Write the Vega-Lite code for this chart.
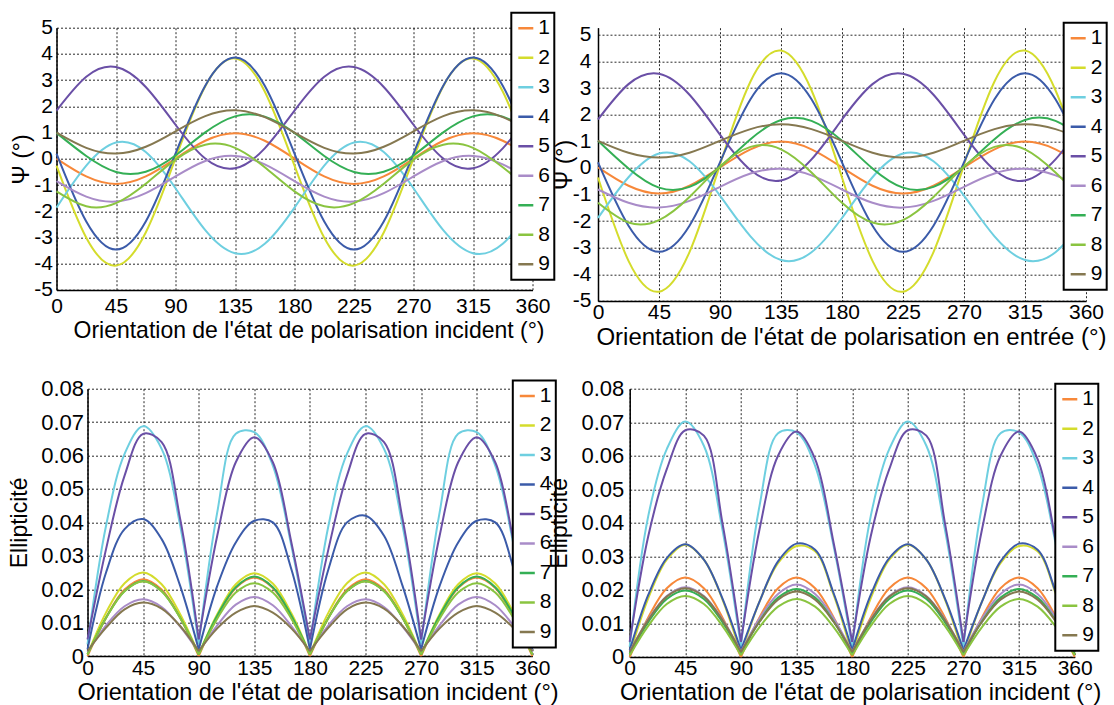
{
"$schema": "https://vega.github.io/schema/vega-lite/v6.json",
"padding": {"left": 8.5, "top": 11.7, "right": 5, "bottom": 0},
"background": "white",
"config": {
 "font": "Liberation Sans",
 "view": {"stroke": null},
 "axis": {"labelFont": "Liberation Sans", "titleFont": "Liberation Sans", "labelFontSize": 21, "titleFontSize": 23, "titleFontWeight": "normal", "labelColor": "#000", "titleColor": "#000", "domainColor": "#000", "domainWidth": 1.5, "ticks": false, "gridColor": "#000", "gridDash": [2, 2], "gridWidth": 1, "gridOpacity": 0.85, "labelFlush": false, "labelOverlap": false, "labelBound": false},
 "legend": {"symbolType": "stroke", "symbolSize": 225, "symbolStrokeWidth": 2.5, "labelFont": "Liberation Sans", "labelFontSize": 21, "labelColor": "#000", "fillColor": "#fff", "strokeColor": "#000", "strokeWidth": 2, "padding": 4, "rowPadding": 6.5, "clipHeight": 23, "labelOffset": 2, "cornerRadius": 0}
},
"datasets": {
"tl": [
{"s":"1","x":0,"y":0.01},{"s":"1","x":22.5,"y":-0.67},{"s":"1","x":45,"y":-0.955},{"s":"1","x":67.5,"y":-0.67},{"s":"1","x":90,"y":0.01},{"s":"1","x":112.5,"y":0.69},{"s":"1","x":135,"y":0.975},{"s":"1","x":157.5,"y":0.69},{"s":"1","x":180,"y":0.01},{"s":"1","x":202.5,"y":-0.67},{"s":"1","x":225,"y":-0.955},{"s":"1","x":247.5,"y":-0.67},{"s":"1","x":270,"y":0.01},{"s":"1","x":292.5,"y":0.69},{"s":"1","x":315,"y":0.975},{"s":"1","x":337.5,"y":0.69},{"s":"1","x":360,"y":0.01},
{"s":"2","x":0,"y":-0.26},{"s":"2","x":22.5,"y":-3.01},{"s":"2","x":45,"y":-4.07},{"s":"2","x":67.5,"y":-2.81},{"s":"2","x":90,"y":0.02},{"s":"2","x":112.5,"y":2.77},{"s":"2","x":135,"y":3.83},{"s":"2","x":157.5,"y":2.57},{"s":"2","x":180,"y":-0.26},{"s":"2","x":202.5,"y":-3.01},{"s":"2","x":225,"y":-4.07},{"s":"2","x":247.5,"y":-2.81},{"s":"2","x":270,"y":0.02},{"s":"2","x":292.5,"y":2.77},{"s":"2","x":315,"y":3.83},{"s":"2","x":337.5,"y":2.57},{"s":"2","x":360,"y":-0.26},
{"s":"3","x":0,"y":-1.86},{"s":"3","x":22.5,"y":-0.26},{"s":"3","x":45,"y":0.62},{"s":"3","x":67.5,"y":0.26},{"s":"3","x":90,"y":-1.12},{"s":"3","x":112.5,"y":-2.72},{"s":"3","x":135,"y":-3.6},{"s":"3","x":157.5,"y":-3.24},{"s":"3","x":180,"y":-1.86},{"s":"3","x":202.5,"y":-0.26},{"s":"3","x":225,"y":0.62},{"s":"3","x":247.5,"y":0.26},{"s":"3","x":270,"y":-1.12},{"s":"3","x":292.5,"y":-2.72},{"s":"3","x":315,"y":-3.6},{"s":"3","x":337.5,"y":-3.24},{"s":"3","x":360,"y":-1.86},
{"s":"4","x":0,"y":0.2},{"s":"4","x":22.5,"y":-2.39},{"s":"4","x":45,"y":-3.46},{"s":"4","x":67.5,"y":-2.39},{"s":"4","x":90,"y":0.2},{"s":"4","x":112.5,"y":2.79},{"s":"4","x":135,"y":3.86},{"s":"4","x":157.5,"y":2.79},{"s":"4","x":180,"y":0.2},{"s":"4","x":202.5,"y":-2.39},{"s":"4","x":225,"y":-3.46},{"s":"4","x":247.5,"y":-2.39},{"s":"4","x":270,"y":0.2},{"s":"4","x":292.5,"y":2.79},{"s":"4","x":315,"y":3.86},{"s":"4","x":337.5,"y":2.79},{"s":"4","x":360,"y":0.2},
{"s":"5","x":0,"y":1.84},{"s":"5","x":22.5,"y":3.13},{"s":"5","x":45,"y":3.5},{"s":"5","x":67.5,"y":2.74},{"s":"5","x":90,"y":1.3},{"s":"5","x":112.5,"y":0.01},{"s":"5","x":135,"y":-0.36},{"s":"5","x":157.5,"y":0.4},{"s":"5","x":180,"y":1.84},{"s":"5","x":202.5,"y":3.13},{"s":"5","x":225,"y":3.5},{"s":"5","x":247.5,"y":2.74},{"s":"5","x":270,"y":1.3},{"s":"5","x":292.5,"y":0.01},{"s":"5","x":315,"y":-0.36},{"s":"5","x":337.5,"y":0.4},{"s":"5","x":360,"y":1.84},
{"s":"6","x":0,"y":-0.85},{"s":"6","x":22.5,"y":-1.44},{"s":"6","x":45,"y":-1.63},{"s":"6","x":67.5,"y":-1.31},{"s":"6","x":90,"y":-0.67},{"s":"6","x":112.5,"y":-0.08},{"s":"6","x":135,"y":0.11},{"s":"6","x":157.5,"y":-0.21},{"s":"6","x":180,"y":-0.85},{"s":"6","x":202.5,"y":-1.44},{"s":"6","x":225,"y":-1.63},{"s":"6","x":247.5,"y":-1.31},{"s":"6","x":270,"y":-0.67},{"s":"6","x":292.5,"y":-0.08},{"s":"6","x":315,"y":0.11},{"s":"6","x":337.5,"y":-0.21},{"s":"6","x":360,"y":-0.85},
{"s":"7","x":0,"y":0.99},{"s":"7","x":22.5,"y":0.11},{"s":"7","x":45,"y":-0.5},{"s":"7","x":67.5,"y":-0.49},{"s":"7","x":90,"y":0.13},{"s":"7","x":112.5,"y":1.01},{"s":"7","x":135,"y":1.62},{"s":"7","x":157.5,"y":1.61},{"s":"7","x":180,"y":0.99},{"s":"7","x":202.5,"y":0.11},{"s":"7","x":225,"y":-0.5},{"s":"7","x":247.5,"y":-0.49},{"s":"7","x":270,"y":0.13},{"s":"7","x":292.5,"y":1.01},{"s":"7","x":315,"y":1.62},{"s":"7","x":337.5,"y":1.61},{"s":"7","x":360,"y":0.99},
{"s":"8","x":0,"y":-1.24},{"s":"8","x":22.5,"y":-1.81},{"s":"8","x":45,"y":-1.69},{"s":"8","x":67.5,"y":-0.95},{"s":"8","x":90,"y":-0.03},{"s":"8","x":112.5,"y":0.54},{"s":"8","x":135,"y":0.42},{"s":"8","x":157.5,"y":-0.32},{"s":"8","x":180,"y":-1.24},{"s":"8","x":202.5,"y":-1.81},{"s":"8","x":225,"y":-1.69},{"s":"8","x":247.5,"y":-0.95},{"s":"8","x":270,"y":-0.03},{"s":"8","x":292.5,"y":0.54},{"s":"8","x":315,"y":0.42},{"s":"8","x":337.5,"y":-0.32},{"s":"8","x":360,"y":-1.24},
{"s":"9","x":0,"y":1.0},{"s":"9","x":22.5,"y":0.42},{"s":"9","x":45,"y":0.2},{"s":"9","x":67.5,"y":0.46},{"s":"9","x":90,"y":1.05},{"s":"9","x":112.5,"y":1.63},{"s":"9","x":135,"y":1.85},{"s":"9","x":157.5,"y":1.59},{"s":"9","x":180,"y":1.0},{"s":"9","x":202.5,"y":0.42},{"s":"9","x":225,"y":0.2},{"s":"9","x":247.5,"y":0.46},{"s":"9","x":270,"y":1.05},{"s":"9","x":292.5,"y":1.63},{"s":"9","x":315,"y":1.85},{"s":"9","x":337.5,"y":1.59},{"s":"9","x":360,"y":1.0}
],
"tr": [
{"s":"1","x":0,"y":0.02},{"s":"1","x":22.5,"y":-0.67},{"s":"1","x":45,"y":-0.96},{"s":"1","x":67.5,"y":-0.67},{"s":"1","x":90,"y":0.02},{"s":"1","x":112.5,"y":0.7},{"s":"1","x":135,"y":0.99},{"s":"1","x":157.5,"y":0.7},{"s":"1","x":180,"y":0.02},{"s":"1","x":202.5,"y":-0.67},{"s":"1","x":225,"y":-0.96},{"s":"1","x":247.5,"y":-0.67},{"s":"1","x":270,"y":0.02},{"s":"1","x":292.5,"y":0.7},{"s":"1","x":315,"y":0.99},{"s":"1","x":337.5,"y":0.7},{"s":"1","x":360,"y":0.02},
{"s":"2","x":0,"y":-0.36},{"s":"2","x":22.5,"y":-3.49},{"s":"2","x":45,"y":-4.65},{"s":"2","x":67.5,"y":-3.16},{"s":"2","x":90,"y":0.12},{"s":"2","x":112.5,"y":3.25},{"s":"2","x":135,"y":4.41},{"s":"2","x":157.5,"y":2.92},{"s":"2","x":180,"y":-0.36},{"s":"2","x":202.5,"y":-3.49},{"s":"2","x":225,"y":-4.65},{"s":"2","x":247.5,"y":-3.16},{"s":"2","x":270,"y":0.12},{"s":"2","x":292.5,"y":3.25},{"s":"2","x":315,"y":4.41},{"s":"2","x":337.5,"y":2.92},{"s":"2","x":360,"y":-0.36},
{"s":"3","x":0,"y":-1.88},{"s":"3","x":22.5,"y":-0.35},{"s":"3","x":45,"y":0.54},{"s":"3","x":67.5,"y":0.25},{"s":"3","x":90,"y":-1.04},{"s":"3","x":112.5,"y":-2.57},{"s":"3","x":135,"y":-3.46},{"s":"3","x":157.5,"y":-3.17},{"s":"3","x":180,"y":-1.88},{"s":"3","x":202.5,"y":-0.35},{"s":"3","x":225,"y":0.54},{"s":"3","x":247.5,"y":0.25},{"s":"3","x":270,"y":-1.04},{"s":"3","x":292.5,"y":-2.57},{"s":"3","x":315,"y":-3.46},{"s":"3","x":337.5,"y":-3.17},{"s":"3","x":360,"y":-1.88},
{"s":"4","x":0,"y":0.21},{"s":"4","x":22.5,"y":-2.17},{"s":"4","x":45,"y":-3.15},{"s":"4","x":67.5,"y":-2.17},{"s":"4","x":90,"y":0.21},{"s":"4","x":112.5,"y":2.58},{"s":"4","x":135,"y":3.56},{"s":"4","x":157.5,"y":2.58},{"s":"4","x":180,"y":0.21},{"s":"4","x":202.5,"y":-2.17},{"s":"4","x":225,"y":-3.15},{"s":"4","x":247.5,"y":-2.17},{"s":"4","x":270,"y":0.21},{"s":"4","x":292.5,"y":2.58},{"s":"4","x":315,"y":3.56},{"s":"4","x":337.5,"y":2.58},{"s":"4","x":360,"y":0.21},
{"s":"5","x":0,"y":1.82},{"s":"5","x":22.5,"y":3.15},{"s":"5","x":45,"y":3.54},{"s":"5","x":67.5,"y":2.75},{"s":"5","x":90,"y":1.25},{"s":"5","x":112.5,"y":-0.08},{"s":"5","x":135,"y":-0.47},{"s":"5","x":157.5,"y":0.32},{"s":"5","x":180,"y":1.82},{"s":"5","x":202.5,"y":3.15},{"s":"5","x":225,"y":3.54},{"s":"5","x":247.5,"y":2.75},{"s":"5","x":270,"y":1.25},{"s":"5","x":292.5,"y":-0.08},{"s":"5","x":315,"y":-0.47},{"s":"5","x":337.5,"y":0.32},{"s":"5","x":360,"y":1.82},
{"s":"6","x":0,"y":-0.81},{"s":"6","x":22.5,"y":-1.31},{"s":"6","x":45,"y":-1.49},{"s":"6","x":67.5,"y":-1.24},{"s":"6","x":90,"y":-0.71},{"s":"6","x":112.5,"y":-0.21},{"s":"6","x":135,"y":-0.03},{"s":"6","x":157.5,"y":-0.28},{"s":"6","x":180,"y":-0.81},{"s":"6","x":202.5,"y":-1.31},{"s":"6","x":225,"y":-1.49},{"s":"6","x":247.5,"y":-1.24},{"s":"6","x":270,"y":-0.71},{"s":"6","x":292.5,"y":-0.21},{"s":"6","x":315,"y":-0.03},{"s":"6","x":337.5,"y":-0.28},{"s":"6","x":360,"y":-0.81},
{"s":"7","x":0,"y":1.02},{"s":"7","x":22.5,"y":-0.02},{"s":"7","x":45,"y":-0.74},{"s":"7","x":67.5,"y":-0.71},{"s":"7","x":90,"y":0.04},{"s":"7","x":112.5,"y":1.08},{"s":"7","x":135,"y":1.8},{"s":"7","x":157.5,"y":1.77},{"s":"7","x":180,"y":1.02},{"s":"7","x":202.5,"y":-0.02},{"s":"7","x":225,"y":-0.74},{"s":"7","x":247.5,"y":-0.71},{"s":"7","x":270,"y":0.04},{"s":"7","x":292.5,"y":1.08},{"s":"7","x":315,"y":1.8},{"s":"7","x":337.5,"y":1.77},{"s":"7","x":360,"y":1.02},
{"s":"8","x":0,"y":-1.31},{"s":"8","x":22.5,"y":-2.05},{"s":"8","x":45,"y":-1.96},{"s":"8","x":67.5,"y":-1.09},{"s":"8","x":90,"y":0.05},{"s":"8","x":112.5,"y":0.79},{"s":"8","x":135,"y":0.7},{"s":"8","x":157.5,"y":-0.17},{"s":"8","x":180,"y":-1.31},{"s":"8","x":202.5,"y":-2.05},{"s":"8","x":225,"y":-1.96},{"s":"8","x":247.5,"y":-1.09},{"s":"8","x":270,"y":0.05},{"s":"8","x":292.5,"y":0.79},{"s":"8","x":315,"y":0.7},{"s":"8","x":337.5,"y":-0.17},{"s":"8","x":360,"y":-1.31},
{"s":"9","x":0,"y":1.02},{"s":"9","x":22.5,"y":0.57},{"s":"9","x":45,"y":0.39},{"s":"9","x":67.5,"y":0.57},{"s":"9","x":90,"y":1.02},{"s":"9","x":112.5,"y":1.46},{"s":"9","x":135,"y":1.64},{"s":"9","x":157.5,"y":1.46},{"s":"9","x":180,"y":1.02},{"s":"9","x":202.5,"y":0.57},{"s":"9","x":225,"y":0.39},{"s":"9","x":247.5,"y":0.57},{"s":"9","x":270,"y":1.02},{"s":"9","x":292.5,"y":1.46},{"s":"9","x":315,"y":1.64},{"s":"9","x":337.5,"y":1.46},{"s":"9","x":360,"y":1.02}
],
"bl": [
{"s":"1","h":1,"x":0,"y":0},{"s":"1","h":1,"x":15,"y":0.0115},{"s":"1","h":1,"x":30,"y":0.0199},{"s":"1","h":1,"x":45,"y":0.023},{"s":"1","h":1,"x":60,"y":0.0199},{"s":"1","h":1,"x":75,"y":0.0115},{"s":"1","h":1,"x":90,"y":0},
{"s":"1","h":2,"x":90,"y":0},{"s":"1","h":2,"x":105,"y":0.0118},{"s":"1","h":2,"x":120,"y":0.0204},{"s":"1","h":2,"x":135,"y":0.0235},{"s":"1","h":2,"x":150,"y":0.0204},{"s":"1","h":2,"x":165,"y":0.0118},{"s":"1","h":2,"x":180,"y":0},
{"s":"1","h":3,"x":180,"y":0},{"s":"1","h":3,"x":195,"y":0.0115},{"s":"1","h":3,"x":210,"y":0.0199},{"s":"1","h":3,"x":225,"y":0.023},{"s":"1","h":3,"x":240,"y":0.0199},{"s":"1","h":3,"x":255,"y":0.0115},{"s":"1","h":3,"x":270,"y":0},
{"s":"1","h":4,"x":270,"y":0},{"s":"1","h":4,"x":285,"y":0.0118},{"s":"1","h":4,"x":300,"y":0.0204},{"s":"1","h":4,"x":315,"y":0.0235},{"s":"1","h":4,"x":330,"y":0.0204},{"s":"1","h":4,"x":345,"y":0.0118},{"s":"1","h":4,"x":360,"y":0},
{"s":"2","h":1,"x":0,"y":0.0005},{"s":"2","h":1,"x":15,"y":0.013},{"s":"2","h":1,"x":30,"y":0.0218},{"s":"2","h":1,"x":45,"y":0.025},{"s":"2","h":1,"x":60,"y":0.0215},{"s":"2","h":1,"x":75,"y":0.0125},{"s":"2","h":1,"x":90,"y":0.0005},
{"s":"2","h":2,"x":90,"y":0.0005},{"s":"2","h":2,"x":105,"y":0.0125},{"s":"2","h":2,"x":120,"y":0.0215},{"s":"2","h":2,"x":135,"y":0.0248},{"s":"2","h":2,"x":150,"y":0.0217},{"s":"2","h":2,"x":165,"y":0.0128},{"s":"2","h":2,"x":180,"y":0.0005},
{"s":"2","h":3,"x":180,"y":0.0005},{"s":"2","h":3,"x":195,"y":0.013},{"s":"2","h":3,"x":210,"y":0.0218},{"s":"2","h":3,"x":225,"y":0.025},{"s":"2","h":3,"x":240,"y":0.0215},{"s":"2","h":3,"x":255,"y":0.0125},{"s":"2","h":3,"x":270,"y":0.0005},
{"s":"2","h":4,"x":270,"y":0.0005},{"s":"2","h":4,"x":285,"y":0.0125},{"s":"2","h":4,"x":300,"y":0.0215},{"s":"2","h":4,"x":315,"y":0.0248},{"s":"2","h":4,"x":330,"y":0.0217},{"s":"2","h":4,"x":345,"y":0.0128},{"s":"2","h":4,"x":360,"y":0.0005},
{"s":"3","h":1,"x":0,"y":0.0035},{"s":"3","h":1,"x":15,"y":0.039},{"s":"3","h":1,"x":30,"y":0.0605},{"s":"3","h":1,"x":45,"y":0.0688},{"s":"3","h":1,"x":60,"y":0.062},{"s":"3","h":1,"x":75,"y":0.039},{"s":"3","h":1,"x":90,"y":0.0035},
{"s":"3","h":2,"x":90,"y":0.0035},{"s":"3","h":2,"x":105,"y":0.043},{"s":"3","h":2,"x":120,"y":0.0665},{"s":"3","h":2,"x":135,"y":0.067},{"s":"3","h":2,"x":150,"y":0.057},{"s":"3","h":2,"x":165,"y":0.033},{"s":"3","h":2,"x":180,"y":0.0035},
{"s":"3","h":3,"x":180,"y":0.0035},{"s":"3","h":3,"x":195,"y":0.039},{"s":"3","h":3,"x":210,"y":0.0605},{"s":"3","h":3,"x":225,"y":0.0688},{"s":"3","h":3,"x":240,"y":0.062},{"s":"3","h":3,"x":255,"y":0.039},{"s":"3","h":3,"x":270,"y":0.0035},
{"s":"3","h":4,"x":270,"y":0.0035},{"s":"3","h":4,"x":285,"y":0.043},{"s":"3","h":4,"x":300,"y":0.0665},{"s":"3","h":4,"x":315,"y":0.067},{"s":"3","h":4,"x":330,"y":0.057},{"s":"3","h":4,"x":345,"y":0.033},{"s":"3","h":4,"x":360,"y":0.0035},
{"s":"4","h":1,"x":0,"y":0.002},{"s":"4","h":1,"x":15,"y":0.025},{"s":"4","h":1,"x":30,"y":0.038},{"s":"4","h":1,"x":45,"y":0.041},{"s":"4","h":1,"x":60,"y":0.035},{"s":"4","h":1,"x":75,"y":0.021},{"s":"4","h":1,"x":90,"y":0.002},
{"s":"4","h":2,"x":90,"y":0.002},{"s":"4","h":2,"x":105,"y":0.021},{"s":"4","h":2,"x":120,"y":0.034},{"s":"4","h":2,"x":135,"y":0.0405},{"s":"4","h":2,"x":150,"y":0.04},{"s":"4","h":2,"x":165,"y":0.026},{"s":"4","h":2,"x":180,"y":0.002},
{"s":"4","h":3,"x":180,"y":0.002},{"s":"4","h":3,"x":195,"y":0.026},{"s":"4","h":3,"x":210,"y":0.04},{"s":"4","h":3,"x":225,"y":0.042},{"s":"4","h":3,"x":240,"y":0.036},{"s":"4","h":3,"x":255,"y":0.021},{"s":"4","h":3,"x":270,"y":0.002},
{"s":"4","h":4,"x":270,"y":0.002},{"s":"4","h":4,"x":285,"y":0.021},{"s":"4","h":4,"x":300,"y":0.034},{"s":"4","h":4,"x":315,"y":0.0405},{"s":"4","h":4,"x":330,"y":0.04},{"s":"4","h":4,"x":345,"y":0.026},{"s":"4","h":4,"x":360,"y":0.002},
{"s":"5","h":1,"x":0,"y":0.005},{"s":"5","h":1,"x":15,"y":0.032},{"s":"5","h":1,"x":30,"y":0.054},{"s":"5","h":1,"x":45,"y":0.0665},{"s":"5","h":1,"x":60,"y":0.064},{"s":"5","h":1,"x":75,"y":0.041},{"s":"5","h":1,"x":90,"y":0.005},
{"s":"5","h":2,"x":90,"y":0.005},{"s":"5","h":2,"x":105,"y":0.036},{"s":"5","h":2,"x":120,"y":0.058},{"s":"5","h":2,"x":135,"y":0.0655},{"s":"5","h":2,"x":150,"y":0.058},{"s":"5","h":2,"x":165,"y":0.034},{"s":"5","h":2,"x":180,"y":0.005},
{"s":"5","h":3,"x":180,"y":0.005},{"s":"5","h":3,"x":195,"y":0.032},{"s":"5","h":3,"x":210,"y":0.054},{"s":"5","h":3,"x":225,"y":0.0665},{"s":"5","h":3,"x":240,"y":0.064},{"s":"5","h":3,"x":255,"y":0.041},{"s":"5","h":3,"x":270,"y":0.005},
{"s":"5","h":4,"x":270,"y":0.005},{"s":"5","h":4,"x":285,"y":0.036},{"s":"5","h":4,"x":300,"y":0.058},{"s":"5","h":4,"x":315,"y":0.0655},{"s":"5","h":4,"x":330,"y":0.058},{"s":"5","h":4,"x":345,"y":0.034},{"s":"5","h":4,"x":360,"y":0.005},
{"s":"6","h":1,"x":0,"y":0.0012},{"s":"6","h":1,"x":15,"y":0.0092},{"s":"6","h":1,"x":30,"y":0.0149},{"s":"6","h":1,"x":45,"y":0.017},{"s":"6","h":1,"x":60,"y":0.0147},{"s":"6","h":1,"x":75,"y":0.0088},{"s":"6","h":1,"x":90,"y":0.0012},
{"s":"6","h":2,"x":90,"y":0.0012},{"s":"6","h":2,"x":105,"y":0.0092},{"s":"6","h":2,"x":120,"y":0.0154},{"s":"6","h":2,"x":135,"y":0.0177},{"s":"6","h":2,"x":150,"y":0.0152},{"s":"6","h":2,"x":165,"y":0.009},{"s":"6","h":2,"x":180,"y":0.0012},
{"s":"6","h":3,"x":180,"y":0.0012},{"s":"6","h":3,"x":195,"y":0.0092},{"s":"6","h":3,"x":210,"y":0.0149},{"s":"6","h":3,"x":225,"y":0.017},{"s":"6","h":3,"x":240,"y":0.0147},{"s":"6","h":3,"x":255,"y":0.0088},{"s":"6","h":3,"x":270,"y":0.0012},
{"s":"6","h":4,"x":270,"y":0.0012},{"s":"6","h":4,"x":285,"y":0.0092},{"s":"6","h":4,"x":300,"y":0.0154},{"s":"6","h":4,"x":315,"y":0.0177},{"s":"6","h":4,"x":330,"y":0.0152},{"s":"6","h":4,"x":345,"y":0.009},{"s":"6","h":4,"x":360,"y":0.0012},
{"s":"7","h":1,"x":0,"y":0.0005},{"s":"7","h":1,"x":15,"y":0.0115},{"s":"7","h":1,"x":30,"y":0.0195},{"s":"7","h":1,"x":45,"y":0.0225},{"s":"7","h":1,"x":60,"y":0.0195},{"s":"7","h":1,"x":75,"y":0.0115},{"s":"7","h":1,"x":90,"y":0.0005},
{"s":"7","h":2,"x":90,"y":0.0005},{"s":"7","h":2,"x":105,"y":0.0121},{"s":"7","h":2,"x":120,"y":0.0206},{"s":"7","h":2,"x":135,"y":0.0238},{"s":"7","h":2,"x":150,"y":0.0206},{"s":"7","h":2,"x":165,"y":0.0121},{"s":"7","h":2,"x":180,"y":0.0005},
{"s":"7","h":3,"x":180,"y":0.0005},{"s":"7","h":3,"x":195,"y":0.0115},{"s":"7","h":3,"x":210,"y":0.0195},{"s":"7","h":3,"x":225,"y":0.0225},{"s":"7","h":3,"x":240,"y":0.0195},{"s":"7","h":3,"x":255,"y":0.0115},{"s":"7","h":3,"x":270,"y":0.0005},
{"s":"7","h":4,"x":270,"y":0.0005},{"s":"7","h":4,"x":285,"y":0.0121},{"s":"7","h":4,"x":300,"y":0.0206},{"s":"7","h":4,"x":315,"y":0.0238},{"s":"7","h":4,"x":330,"y":0.0206},{"s":"7","h":4,"x":345,"y":0.0121},{"s":"7","h":4,"x":360,"y":0.0005},
{"s":"8","h":1,"x":0,"y":0.0005},{"s":"8","h":1,"x":15,"y":0.0114},{"s":"8","h":1,"x":30,"y":0.0194},{"s":"8","h":1,"x":45,"y":0.0223},{"s":"8","h":1,"x":60,"y":0.0194},{"s":"8","h":1,"x":75,"y":0.0114},{"s":"8","h":1,"x":90,"y":0.0005},
{"s":"8","h":2,"x":90,"y":0.0005},{"s":"8","h":2,"x":105,"y":0.0112},{"s":"8","h":2,"x":120,"y":0.019},{"s":"8","h":2,"x":135,"y":0.0218},{"s":"8","h":2,"x":150,"y":0.019},{"s":"8","h":2,"x":165,"y":0.0112},{"s":"8","h":2,"x":180,"y":0.0005},
{"s":"8","h":3,"x":180,"y":0.0005},{"s":"8","h":3,"x":195,"y":0.0114},{"s":"8","h":3,"x":210,"y":0.0194},{"s":"8","h":3,"x":225,"y":0.0223},{"s":"8","h":3,"x":240,"y":0.0194},{"s":"8","h":3,"x":255,"y":0.0114},{"s":"8","h":3,"x":270,"y":0.0005},
{"s":"8","h":4,"x":270,"y":0.0005},{"s":"8","h":4,"x":285,"y":0.0112},{"s":"8","h":4,"x":300,"y":0.019},{"s":"8","h":4,"x":315,"y":0.0218},{"s":"8","h":4,"x":330,"y":0.019},{"s":"8","h":4,"x":345,"y":0.0112},{"s":"8","h":4,"x":360,"y":0.0005},
{"s":"9","h":1,"x":0,"y":0.0015},{"s":"9","h":1,"x":15,"y":0.0085},{"s":"9","h":1,"x":30,"y":0.014},{"s":"9","h":1,"x":45,"y":0.016},{"s":"9","h":1,"x":60,"y":0.0142},{"s":"9","h":1,"x":75,"y":0.009},{"s":"9","h":1,"x":90,"y":0.0015},
{"s":"9","h":2,"x":90,"y":0.0015},{"s":"9","h":2,"x":105,"y":0.0083},{"s":"9","h":2,"x":120,"y":0.013},{"s":"9","h":2,"x":135,"y":0.015},{"s":"9","h":2,"x":150,"y":0.013},{"s":"9","h":2,"x":165,"y":0.0083},{"s":"9","h":2,"x":180,"y":0.0015},
{"s":"9","h":3,"x":180,"y":0.0015},{"s":"9","h":3,"x":195,"y":0.0085},{"s":"9","h":3,"x":210,"y":0.014},{"s":"9","h":3,"x":225,"y":0.016},{"s":"9","h":3,"x":240,"y":0.0142},{"s":"9","h":3,"x":255,"y":0.009},{"s":"9","h":3,"x":270,"y":0.0015},
{"s":"9","h":4,"x":270,"y":0.0015},{"s":"9","h":4,"x":285,"y":0.0083},{"s":"9","h":4,"x":300,"y":0.013},{"s":"9","h":4,"x":315,"y":0.015},{"s":"9","h":4,"x":330,"y":0.013},{"s":"9","h":4,"x":345,"y":0.0083},{"s":"9","h":4,"x":360,"y":0.0015}
],
"br": [
{"s":"1","h":1,"x":0,"y":0},{"s":"1","h":1,"x":15,"y":0.0118},{"s":"1","h":1,"x":30,"y":0.0205},{"s":"1","h":1,"x":45,"y":0.0237},{"s":"1","h":1,"x":60,"y":0.0205},{"s":"1","h":1,"x":75,"y":0.0118},{"s":"1","h":1,"x":90,"y":0},
{"s":"1","h":2,"x":90,"y":0},{"s":"1","h":2,"x":105,"y":0.0118},{"s":"1","h":2,"x":120,"y":0.0205},{"s":"1","h":2,"x":135,"y":0.0237},{"s":"1","h":2,"x":150,"y":0.0205},{"s":"1","h":2,"x":165,"y":0.0118},{"s":"1","h":2,"x":180,"y":0},
{"s":"1","h":3,"x":180,"y":0},{"s":"1","h":3,"x":195,"y":0.0118},{"s":"1","h":3,"x":210,"y":0.0205},{"s":"1","h":3,"x":225,"y":0.0237},{"s":"1","h":3,"x":240,"y":0.0205},{"s":"1","h":3,"x":255,"y":0.0118},{"s":"1","h":3,"x":270,"y":0},
{"s":"1","h":4,"x":270,"y":0},{"s":"1","h":4,"x":285,"y":0.0118},{"s":"1","h":4,"x":300,"y":0.0205},{"s":"1","h":4,"x":315,"y":0.0237},{"s":"1","h":4,"x":330,"y":0.0205},{"s":"1","h":4,"x":345,"y":0.0118},{"s":"1","h":4,"x":360,"y":0},
{"s":"2","h":1,"x":0,"y":0.0008},{"s":"2","h":1,"x":15,"y":0.0175},{"s":"2","h":1,"x":30,"y":0.029},{"s":"2","h":1,"x":45,"y":0.0335},{"s":"2","h":1,"x":60,"y":0.029},{"s":"2","h":1,"x":75,"y":0.0172},{"s":"2","h":1,"x":90,"y":0.0008},
{"s":"2","h":2,"x":90,"y":0.0008},{"s":"2","h":2,"x":105,"y":0.0165},{"s":"2","h":2,"x":120,"y":0.028},{"s":"2","h":2,"x":135,"y":0.0331},{"s":"2","h":2,"x":150,"y":0.0315},{"s":"2","h":2,"x":165,"y":0.0185},{"s":"2","h":2,"x":180,"y":0.0008},
{"s":"2","h":3,"x":180,"y":0.0008},{"s":"2","h":3,"x":195,"y":0.0175},{"s":"2","h":3,"x":210,"y":0.029},{"s":"2","h":3,"x":225,"y":0.0335},{"s":"2","h":3,"x":240,"y":0.029},{"s":"2","h":3,"x":255,"y":0.0172},{"s":"2","h":3,"x":270,"y":0.0008},
{"s":"2","h":4,"x":270,"y":0.0008},{"s":"2","h":4,"x":285,"y":0.0165},{"s":"2","h":4,"x":300,"y":0.028},{"s":"2","h":4,"x":315,"y":0.0331},{"s":"2","h":4,"x":330,"y":0.0315},{"s":"2","h":4,"x":345,"y":0.0185},{"s":"2","h":4,"x":360,"y":0.0008},
{"s":"3","h":1,"x":0,"y":0.003},{"s":"3","h":1,"x":15,"y":0.042},{"s":"3","h":1,"x":30,"y":0.062},{"s":"3","h":1,"x":45,"y":0.0702},{"s":"3","h":1,"x":60,"y":0.063},{"s":"3","h":1,"x":75,"y":0.038},{"s":"3","h":1,"x":90,"y":0.003},
{"s":"3","h":2,"x":90,"y":0.003},{"s":"3","h":2,"x":105,"y":0.045},{"s":"3","h":2,"x":120,"y":0.0667},{"s":"3","h":2,"x":135,"y":0.067},{"s":"3","h":2,"x":150,"y":0.057},{"s":"3","h":2,"x":165,"y":0.033},{"s":"3","h":2,"x":180,"y":0.003},
{"s":"3","h":3,"x":180,"y":0.003},{"s":"3","h":3,"x":195,"y":0.042},{"s":"3","h":3,"x":210,"y":0.062},{"s":"3","h":3,"x":225,"y":0.0702},{"s":"3","h":3,"x":240,"y":0.063},{"s":"3","h":3,"x":255,"y":0.038},{"s":"3","h":3,"x":270,"y":0.003},
{"s":"3","h":4,"x":270,"y":0.003},{"s":"3","h":4,"x":285,"y":0.045},{"s":"3","h":4,"x":300,"y":0.0667},{"s":"3","h":4,"x":315,"y":0.067},{"s":"3","h":4,"x":330,"y":0.057},{"s":"3","h":4,"x":345,"y":0.033},{"s":"3","h":4,"x":360,"y":0.003},
{"s":"4","h":1,"x":0,"y":0.002},{"s":"4","h":1,"x":15,"y":0.0185},{"s":"4","h":1,"x":30,"y":0.0295},{"s":"4","h":1,"x":45,"y":0.0336},{"s":"4","h":1,"x":60,"y":0.029},{"s":"4","h":1,"x":75,"y":0.0175},{"s":"4","h":1,"x":90,"y":0.002},
{"s":"4","h":2,"x":90,"y":0.002},{"s":"4","h":2,"x":105,"y":0.0165},{"s":"4","h":2,"x":120,"y":0.0285},{"s":"4","h":2,"x":135,"y":0.0338},{"s":"4","h":2,"x":150,"y":0.032},{"s":"4","h":2,"x":165,"y":0.019},{"s":"4","h":2,"x":180,"y":0.002},
{"s":"4","h":3,"x":180,"y":0.002},{"s":"4","h":3,"x":195,"y":0.0185},{"s":"4","h":3,"x":210,"y":0.0295},{"s":"4","h":3,"x":225,"y":0.0336},{"s":"4","h":3,"x":240,"y":0.029},{"s":"4","h":3,"x":255,"y":0.0175},{"s":"4","h":3,"x":270,"y":0.002},
{"s":"4","h":4,"x":270,"y":0.002},{"s":"4","h":4,"x":285,"y":0.0165},{"s":"4","h":4,"x":300,"y":0.0285},{"s":"4","h":4,"x":315,"y":0.0338},{"s":"4","h":4,"x":330,"y":0.032},{"s":"4","h":4,"x":345,"y":0.019},{"s":"4","h":4,"x":360,"y":0.002},
{"s":"5","h":1,"x":0,"y":0.0045},{"s":"5","h":1,"x":15,"y":0.036},{"s":"5","h":1,"x":30,"y":0.056},{"s":"5","h":1,"x":45,"y":0.0676},{"s":"5","h":1,"x":60,"y":0.066},{"s":"5","h":1,"x":75,"y":0.04},{"s":"5","h":1,"x":90,"y":0.0045},
{"s":"5","h":2,"x":90,"y":0.0045},{"s":"5","h":2,"x":105,"y":0.038},{"s":"5","h":2,"x":120,"y":0.06},{"s":"5","h":2,"x":135,"y":0.0672},{"s":"5","h":2,"x":150,"y":0.059},{"s":"5","h":2,"x":165,"y":0.034},{"s":"5","h":2,"x":180,"y":0.0045},
{"s":"5","h":3,"x":180,"y":0.0045},{"s":"5","h":3,"x":195,"y":0.036},{"s":"5","h":3,"x":210,"y":0.056},{"s":"5","h":3,"x":225,"y":0.0676},{"s":"5","h":3,"x":240,"y":0.066},{"s":"5","h":3,"x":255,"y":0.04},{"s":"5","h":3,"x":270,"y":0.0045},
{"s":"5","h":4,"x":270,"y":0.0045},{"s":"5","h":4,"x":285,"y":0.038},{"s":"5","h":4,"x":300,"y":0.06},{"s":"5","h":4,"x":315,"y":0.0672},{"s":"5","h":4,"x":330,"y":0.059},{"s":"5","h":4,"x":345,"y":0.034},{"s":"5","h":4,"x":360,"y":0.0045},
{"s":"6","h":1,"x":0,"y":0.0015},{"s":"6","h":1,"x":15,"y":0.0112},{"s":"6","h":1,"x":30,"y":0.0182},{"s":"6","h":1,"x":45,"y":0.0208},{"s":"6","h":1,"x":60,"y":0.0182},{"s":"6","h":1,"x":75,"y":0.0112},{"s":"6","h":1,"x":90,"y":0.0015},
{"s":"6","h":2,"x":90,"y":0.0015},{"s":"6","h":2,"x":105,"y":0.0115},{"s":"6","h":2,"x":120,"y":0.0188},{"s":"6","h":2,"x":135,"y":0.0216},{"s":"6","h":2,"x":150,"y":0.0188},{"s":"6","h":2,"x":165,"y":0.0115},{"s":"6","h":2,"x":180,"y":0.0015},
{"s":"6","h":3,"x":180,"y":0.0015},{"s":"6","h":3,"x":195,"y":0.0112},{"s":"6","h":3,"x":210,"y":0.0182},{"s":"6","h":3,"x":225,"y":0.0208},{"s":"6","h":3,"x":240,"y":0.0182},{"s":"6","h":3,"x":255,"y":0.0112},{"s":"6","h":3,"x":270,"y":0.0015},
{"s":"6","h":4,"x":270,"y":0.0015},{"s":"6","h":4,"x":285,"y":0.0115},{"s":"6","h":4,"x":300,"y":0.0188},{"s":"6","h":4,"x":315,"y":0.0216},{"s":"6","h":4,"x":330,"y":0.0188},{"s":"6","h":4,"x":345,"y":0.0115},{"s":"6","h":4,"x":360,"y":0.0015},
{"s":"7","h":1,"x":0,"y":0.001},{"s":"7","h":1,"x":15,"y":0.0104},{"s":"7","h":1,"x":30,"y":0.0173},{"s":"7","h":1,"x":45,"y":0.0198},{"s":"7","h":1,"x":60,"y":0.0173},{"s":"7","h":1,"x":75,"y":0.0104},{"s":"7","h":1,"x":90,"y":0.001},
{"s":"7","h":2,"x":90,"y":0.001},{"s":"7","h":2,"x":105,"y":0.0106},{"s":"7","h":2,"x":120,"y":0.0177},{"s":"7","h":2,"x":135,"y":0.0203},{"s":"7","h":2,"x":150,"y":0.0177},{"s":"7","h":2,"x":165,"y":0.0106},{"s":"7","h":2,"x":180,"y":0.001},
{"s":"7","h":3,"x":180,"y":0.001},{"s":"7","h":3,"x":195,"y":0.0104},{"s":"7","h":3,"x":210,"y":0.0173},{"s":"7","h":3,"x":225,"y":0.0198},{"s":"7","h":3,"x":240,"y":0.0173},{"s":"7","h":3,"x":255,"y":0.0104},{"s":"7","h":3,"x":270,"y":0.001},
{"s":"7","h":4,"x":270,"y":0.001},{"s":"7","h":4,"x":285,"y":0.0106},{"s":"7","h":4,"x":300,"y":0.0177},{"s":"7","h":4,"x":315,"y":0.0203},{"s":"7","h":4,"x":330,"y":0.0177},{"s":"7","h":4,"x":345,"y":0.0106},{"s":"7","h":4,"x":360,"y":0.001},
{"s":"8","h":1,"x":0,"y":0.0005},{"s":"8","h":1,"x":15,"y":0.0093},{"s":"8","h":1,"x":30,"y":0.0158},{"s":"8","h":1,"x":45,"y":0.0182},{"s":"8","h":1,"x":60,"y":0.0158},{"s":"8","h":1,"x":75,"y":0.0093},{"s":"8","h":1,"x":90,"y":0.0005},
{"s":"8","h":2,"x":90,"y":0.0005},{"s":"8","h":2,"x":105,"y":0.0089},{"s":"8","h":2,"x":120,"y":0.015},{"s":"8","h":2,"x":135,"y":0.0173},{"s":"8","h":2,"x":150,"y":0.015},{"s":"8","h":2,"x":165,"y":0.0089},{"s":"8","h":2,"x":180,"y":0.0005},
{"s":"8","h":3,"x":180,"y":0.0005},{"s":"8","h":3,"x":195,"y":0.0093},{"s":"8","h":3,"x":210,"y":0.0158},{"s":"8","h":3,"x":225,"y":0.0182},{"s":"8","h":3,"x":240,"y":0.0158},{"s":"8","h":3,"x":255,"y":0.0093},{"s":"8","h":3,"x":270,"y":0.0005},
{"s":"8","h":4,"x":270,"y":0.0005},{"s":"8","h":4,"x":285,"y":0.0089},{"s":"8","h":4,"x":300,"y":0.015},{"s":"8","h":4,"x":315,"y":0.0173},{"s":"8","h":4,"x":330,"y":0.015},{"s":"8","h":4,"x":345,"y":0.0089},{"s":"8","h":4,"x":360,"y":0.0005},
{"s":"9","h":1,"x":0,"y":0.0015},{"s":"9","h":1,"x":15,"y":0.011},{"s":"9","h":1,"x":30,"y":0.018},{"s":"9","h":1,"x":45,"y":0.0205},{"s":"9","h":1,"x":60,"y":0.018},{"s":"9","h":1,"x":75,"y":0.011},{"s":"9","h":1,"x":90,"y":0.0015},
{"s":"9","h":2,"x":90,"y":0.0015},{"s":"9","h":2,"x":105,"y":0.0105},{"s":"9","h":2,"x":120,"y":0.0171},{"s":"9","h":2,"x":135,"y":0.0195},{"s":"9","h":2,"x":150,"y":0.0171},{"s":"9","h":2,"x":165,"y":0.0105},{"s":"9","h":2,"x":180,"y":0.0015},
{"s":"9","h":3,"x":180,"y":0.0015},{"s":"9","h":3,"x":195,"y":0.011},{"s":"9","h":3,"x":210,"y":0.018},{"s":"9","h":3,"x":225,"y":0.0205},{"s":"9","h":3,"x":240,"y":0.018},{"s":"9","h":3,"x":255,"y":0.011},{"s":"9","h":3,"x":270,"y":0.0015},
{"s":"9","h":4,"x":270,"y":0.0015},{"s":"9","h":4,"x":285,"y":0.0105},{"s":"9","h":4,"x":300,"y":0.0171},{"s":"9","h":4,"x":315,"y":0.0195},{"s":"9","h":4,"x":330,"y":0.0171},{"s":"9","h":4,"x":345,"y":0.0105},{"s":"9","h":4,"x":360,"y":0.0015}
]
},
"resolve": {"scale": {"color": "independent"}, "legend": {"color": "independent"}},
"spacing": 27,
"vconcat": [
{
 "hconcat": [
  {
   "width": 476, "height": 262.3,
   "data": {"name": "tl"},
   "mark": {"type": "line", "interpolate": "natural", "strokeWidth": 2},
   "encoding": {
    "x": {"field": "x", "type": "quantitative", "scale": {"domain": [0, 360], "nice": false, "zero": false},
          "axis": {"values": [0, 45, 90, 135, 180, 225, 270, 315, 360], "title": "Orientation de l'état de polarisation incident (°)", "titleX": 252, "labelPadding": 6, "titlePadding": 3}},
    "y": {"field": "y", "type": "quantitative", "scale": {"domain": [-5, 5], "nice": false},
          "axis": {"values": [-5, -4, -3, -2, -1, 0, 1, 2, 3, 4, 5], "labelExpr": "replace(datum.label, '\u2212', '-')", "title": "Ψ (°)", "labelPadding": 4, "titlePadding": 0}},
    "color": {"field": "s", "type": "nominal", "scale": {"domain": ["1","2","3","4","5","6","7","8","9"], "range": ["#F7883A","#D4DC2C","#6ECFE0","#3B5BA9","#6A4FA6","#A98CC8","#34AF55","#8AC440","#857850"]},
          "legend": {"title": null, "orient": "none", "legendX": 454.8, "legendY": -15}}
   }
  },
  {
   "width": 488, "height": 273.3,
   "data": {"name": "tr"},
   "mark": {"type": "line", "interpolate": "natural", "strokeWidth": 2},
   "encoding": {
    "x": {"field": "x", "type": "quantitative", "scale": {"domain": [0, 360], "nice": false, "zero": false},
          "axis": {"values": [0, 45, 90, 135, 180, 225, 270, 315, 360], "title": "Orientation de l'état de polarisation en entrée (°)", "titleX": 253, "titleFontSize": 24, "labelPadding": 1, "titlePadding": 3}},
    "y": {"field": "y", "type": "quantitative", "scale": {"domain": [-5, 5.27], "nice": false},
          "axis": {"values": [-5, -4, -3, -2, -1, 0, 1, 2, 3, 4, 5], "labelExpr": "replace(datum.label, '\u2212', '-')", "title": "Ψ (°)", "labelPadding": 7, "titlePadding": -4}},
    "color": {"field": "s", "type": "nominal", "scale": {"domain": ["1","2","3","4","5","6","7","8","9"], "range": ["#F7883A","#D4DC2C","#6ECFE0","#3B5BA9","#6A4FA6","#A98CC8","#34AF55","#8AC440","#857850"]},
          "legend": {"title": null, "orient": "none", "legendX": 465.7, "legendY": -5}}
   }
  }
 ],
 "spacing": 65.5,
 "bounds": "flush",
 "resolve": {"scale": {"color": "independent"}, "legend": {"color": "independent"}}
},
{
 "hconcat": [
  {
   "width": 30.5, "height": 1,
   "data": {"values": []},
   "mark": "point"
  },
  {
   "hconcat": [
    {
     "width": 444.8, "height": 267.4,
     "data": {"name": "bl"},
     "mark": {"type": "line", "interpolate": "catmull-rom", "strokeWidth": 2},
     "encoding": {
      "x": {"field": "x", "type": "quantitative", "scale": {"domain": [0, 360], "nice": false, "zero": false},
            "axis": {"values": [0, 45, 90, 135, 180, 225, 270, 315, 360], "title": "Orientation de l'état de polarisation incident (°)", "titleX": 230, "titleFontSize": 23.5, "labelPadding": 1, "titlePadding": 2}},
      "y": {"field": "y", "type": "quantitative", "scale": {"domain": [0, 0.08], "nice": false},
            "axis": {"values": [0, 0.01, 0.02, 0.03, 0.04, 0.05, 0.06, 0.07, 0.08], "labelExpr": "datum.value == 0 ? '0' : format(datum.value, '.2f')", "labelFontSize": 22, "title": "Ellipticité", "labelPadding": 4, "titlePadding": 9}},
      "detail": {"field": "h", "type": "nominal"},
      "color": {"field": "s", "type": "nominal", "scale": {"domain": ["1","2","3","4","5","6","7","8","9"], "range": ["#F7883A","#D4DC2C","#6ECFE0","#3B5BA9","#6A4FA6","#A98CC8","#34AF55","#8AC440","#857850"]},
            "legend": {"title": null, "orient": "none", "legendX": 425.3, "legendY": -8.3}}
     }
    },
    {
     "width": 445, "height": 268.3,
     "data": {"name": "br"},
     "mark": {"type": "line", "interpolate": "catmull-rom", "strokeWidth": 2},
     "encoding": {
      "x": {"field": "x", "type": "quantitative", "scale": {"domain": [0, 360], "nice": false, "zero": false},
            "axis": {"values": [0, 45, 90, 135, 180, 225, 270, 315, 360], "title": "Orientation de l'état de polarisation incident (°)", "titleX": 230.5, "titleFontSize": 23.5, "labelPadding": 1, "titlePadding": 2}},
      "y": {"field": "y", "type": "quantitative", "scale": {"domain": [0, 0.08], "nice": false},
            "axis": {"values": [0, 0.01, 0.02, 0.03, 0.04, 0.05, 0.06, 0.07, 0.08], "labelExpr": "datum.value == 0 ? '0' : format(datum.value, '.2f')", "labelFontSize": 22, "title": "Ellipticité", "labelPadding": 6, "titlePadding": 9}},
      "detail": {"field": "h", "type": "nominal"},
      "color": {"field": "s", "type": "nominal", "scale": {"domain": ["1","2","3","4","5","6","7","8","9"], "range": ["#F7883A","#D4DC2C","#6ECFE0","#3B5BA9","#6A4FA6","#A98CC8","#34AF55","#8AC440","#857850"]},
            "legend": {"title": null, "orient": "none", "legendX": 425.6, "legendY": -5}}
     }
    }
   ],
   "spacing": 97.2,
   "bounds": "flush",
   "resolve": {"scale": {"color": "independent"}, "legend": {"color": "independent"}}
  }
 ],
 "spacing": 0,
 "bounds": "flush",
 "resolve": {"scale": {"color": "independent"}, "legend": {"color": "independent"}}
}
]
}
